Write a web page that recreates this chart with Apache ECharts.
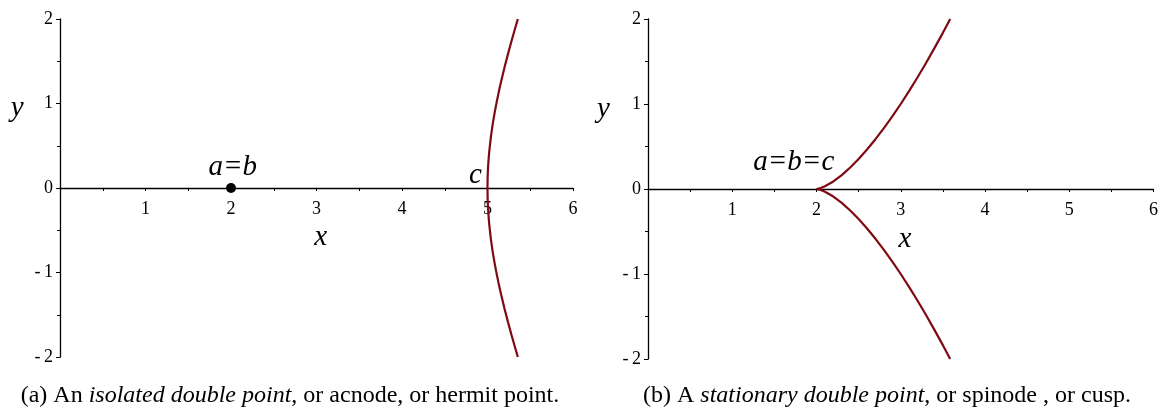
<!DOCTYPE html>
<html>
<head>
<meta charset="utf-8">
<script src="https://cdn.jsdelivr.net/npm/echarts@6/dist/echarts.min.js"></script>
<style>
  html, body { margin: 0; padding: 0; background: #fff; }
  #chart { width: 1161px; height: 410px; }
</style>
</head>
<body>
<div id="chart"></div>
<script>
// Acnode curve y^2 = (x-2)^2 (x-5): the real branch through x = 5
const acnodeCurveX = [5.355, 5.32, 5.28, 5.24, 5.20, 5.16, 5.13, 5.10, 5.08, 5.06, 5.04, 5.02, 5.01, 5.005, 5.0025, 5.001, 5.0,
                      5.001, 5.0025, 5.005, 5.01, 5.02, 5.04, 5.06, 5.08, 5.10, 5.13, 5.16, 5.20, 5.24, 5.28, 5.32, 5.355];
const acnodeCurveY = [-2.0, -1.878, -1.736, -1.587, -1.431, -1.264, -1.129, -0.980, -0.871, -0.750, -0.608, -0.427, -0.301, -0.2125, -0.150, -0.095, 0.0,
                      0.095, 0.150, 0.2125, 0.301, 0.427, 0.608, 0.750, 0.871, 0.980, 1.129, 1.264, 1.431, 1.587, 1.736, 1.878, 2.0];
// The isolated point a = b
const isolatedPoint = [2, 0];

// Cusp curve y^2 = (x-2)^3
const cuspCurveX = [3.587, 3.5, 3.4, 3.3, 3.2, 3.1, 3.0, 2.9, 2.8, 2.7, 2.6, 2.5, 2.4, 2.3, 2.2, 2.1, 2.05, 2.0,
                    2.05, 2.1, 2.2, 2.3, 2.4, 2.5, 2.6, 2.7, 2.8, 2.9, 3.0, 3.1, 3.2, 3.3, 3.4, 3.5, 3.587];
const cuspCurveY = [2.0, 1.837, 1.657, 1.482, 1.315, 1.154, 1.0, 0.854, 0.716, 0.586, 0.465, 0.354, 0.253, 0.164, 0.089, 0.032, 0.011, 0.0,
                    -0.011, -0.032, -0.089, -0.164, -0.253, -0.354, -0.465, -0.586, -0.716, -0.854, -1.0, -1.154, -1.315, -1.482, -1.657, -1.837, -2.0];

// Axis ranges and tick labels
const xTicks = [0, 1, 2, 3, 4, 5, 6];
const yTicks = [-2, -1, 0, 1, 2];
const xTickLabels = ['', '1', '2', '3', '4', '5', '6'];
const yTickLabels = ['-\u20092', '-\u20091', '0', '1', '2'];

const captionA = ['(a) An ', 'isolated double point', ', or acnode, or hermit point.'];
const captionB = ['(b) A ', 'stationary double point', ', or spinode , or cusp.'];

const SERIF = '"Liberation Serif", "DejaVu Serif", serif';
const CURVE_COLOR = '#7f0a12';

// Two panels side by side; the x axis of each sits on y = 0, half way up its grid
const grids = [
  { left: 60, right: 588, top: 19, bottom: 53 },
  { left: 648, right: 2, top: 19, bottom: 51 }
];
const CHART_H = 410;

function zip(xs, ys) { return xs.map((x, i) => [x, ys[i]]); }

function xAxisFor(gridIndex) {
  const g = grids[gridIndex];
  const halfHeight = (CHART_H - g.top - g.bottom) / 2;
  return {
    type: 'value', gridIndex, min: xTicks[0], max: xTicks[xTicks.length - 1], interval: 1,
    position: 'bottom', offset: -halfHeight,
    axisLine: { onZero: false, lineStyle: { color: '#000', width: 1.3 } },
    axisTick: { show: true, length: 3, lineStyle: { color: '#000' } },
    minorTick: { show: true, splitNumber: 2, length: 3, lineStyle: { color: '#000' } },
    splitLine: { show: false }, minorSplitLine: { show: false },
    axisLabel: {
      margin: 12, color: '#000', fontFamily: SERIF, fontSize: 18,
      formatter: v => xTickLabels[xTicks.indexOf(v)] ?? ''
    }
  };
}
function yAxisFor(gridIndex) {
  return {
    type: 'value', gridIndex, min: yTicks[0], max: yTicks[yTicks.length - 1], interval: 1,
    axisLine: { onZero: false, lineStyle: { color: '#000', width: 1.3 } },
    axisTick: { show: true, length: 4, lineStyle: { color: '#000' } },
    minorTick: { show: true, splitNumber: 2, length: 3, lineStyle: { color: '#000' } },
    splitLine: { show: false }, minorSplitLine: { show: false },
    axisLabel: {
      margin: 7, color: '#000', fontFamily: SERIF, fontSize: 18,
      formatter: v => yTickLabels[yTicks.indexOf(v)] ?? ''
    }
  };
}

const chart = echarts.init(document.getElementById('chart'), null, { renderer: 'canvas' });

chart.setOption({
  animation: false,
  backgroundColor: '#fff',
  grid: grids,
  xAxis: [xAxisFor(0), xAxisFor(1)],
  yAxis: [yAxisFor(0), yAxisFor(1)],
  series: [
    {
      type: 'line', xAxisIndex: 0, yAxisIndex: 0, data: zip(acnodeCurveX, acnodeCurveY),
      showSymbol: false, smooth: false, lineStyle: { color: CURVE_COLOR, width: 2.2 }, z: 3
    },
    {
      type: 'scatter', xAxisIndex: 0, yAxisIndex: 0, data: [isolatedPoint],
      symbolSize: 10, itemStyle: { color: '#000', opacity: 1 }, z: 4
    },
    {
      type: 'line', xAxisIndex: 1, yAxisIndex: 1, data: zip(cuspCurveX, cuspCurveY),
      showSymbol: false, smooth: false, lineStyle: { color: CURVE_COLOR, width: 2.2 }, z: 3
    }
  ]
});

// Italic math annotations, placed in data coordinates of each panel
const notes = [
  { grid: 0, at: [3.05, -0.59], text: 'x' },
  { grid: 0, at: [-0.5, 0.94], text: 'y' },
  { grid: 0, at: [2.02, 0.24], text: 'a=b' },
  { grid: 0, at: [4.86, 0.15], text: 'c' },
  { grid: 1, at: [3.05, -0.59], text: 'x' },
  { grid: 1, at: [-0.53, 0.94], text: 'y' },
  { grid: 1, at: [1.73, 0.31], text: 'a=b=c' }
];

const graphics = notes.map(n => {
  const p = chart.convertToPixel({ gridIndex: n.grid }, n.at);
  return {
    type: 'text', x: p[0], y: p[1], z: 10,
    style: {
      text: n.text, fill: '#000', font: 'italic 29px ' + SERIF,
      textAlign: 'center', textVerticalAlign: 'middle'
    }
  };
});

function caption(parts, cx) {
  return {
    type: 'text', x: cx, y: 396, z: 10,
    style: {
      text: '{n|' + parts[0] + '}{i|' + parts[1] + '}{n|' + parts[2] + '}',
      textAlign: 'center', textVerticalAlign: 'middle',
      rich: {
        n: { fontFamily: SERIF, fontSize: 24, fill: '#000', color: '#000' },
        i: { fontFamily: SERIF, fontSize: 24, fontStyle: 'italic', fill: '#000', color: '#000' }
      }
    }
  };
}
graphics.push(caption(captionA, 290));
graphics.push(caption(captionB, 887));

chart.setOption({ graphic: graphics });
</script>
</body>
</html>
